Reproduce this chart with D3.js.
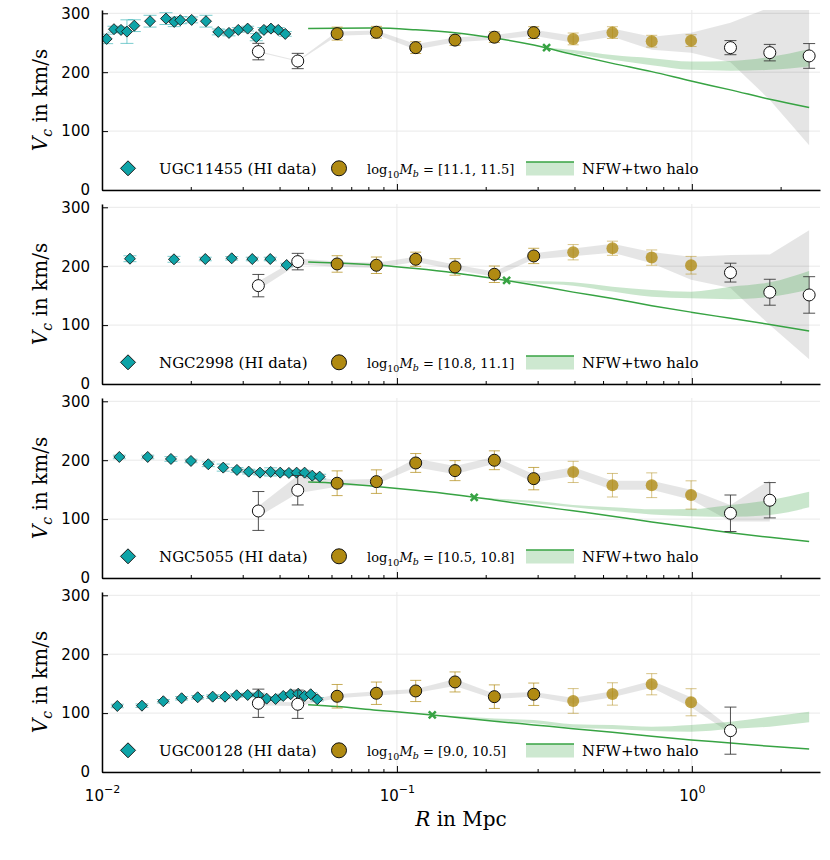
<!DOCTYPE html>
<html>
<head>
<meta charset="utf-8">
<script src="https://cdn.jsdelivr.net/npm/d3@7"></script>
<style>
  body { margin: 0; background: #fff; }
</style>
</head>
<body>
<div id="chart"></div>
<script>
// --- DATA ---

const galaxyNames = ["UGC11455", "NGC2998", "NGC5055", "UGC00128"];
const massRanges = ["[11.1, 11.5]", "[10.8, 11.1]", "[10.5, 10.8]", "[9.0, 10.5]"];

// HI rotation curves (R in Mpc, V in km/s)
const hiR = [
    [0.01037, 0.01098, 0.01160, 0.01215, 0.01287, 0.01455, 0.01648, 0.01758, 0.01843, 0.02014,
     0.02252, 0.02479, 0.02695, 0.02898, 0.03118, 0.03335, 0.03540, 0.03740, 0.03959, 0.04182],
    [0.01244, 0.01754, 0.02240, 0.02753, 0.03232, 0.03720, 0.04228],
    [0.01145, 0.01429, 0.01713, 0.02003, 0.02293, 0.02577, 0.02868, 0.03144, 0.03433, 0.03732,
     0.04021, 0.04303, 0.04571, 0.04864, 0.05164, 0.05470],
    [0.01127, 0.01366, 0.01614, 0.01862, 0.02111, 0.02373, 0.02612, 0.02861, 0.03119, 0.03387,
     0.03616, 0.03879, 0.04117, 0.04362, 0.04629, 0.04866, 0.05100, 0.05368]
];
const hiV = [
    [256.5, 273, 271.8, 268.9, 279, 286.6, 291, 285.4, 288.3, 288.8,
     286.6, 268.4, 266.7, 271.8, 274, 259.4, 271.8, 274, 271.8, 265],
    [212.7, 211.7, 212.2, 213.4, 212.2, 212.2, 202],
    [205.5, 205.5, 202.1, 198.7, 193.1, 187.4, 183.5, 180.6, 178.9, 180.1,
     178.9, 178.4, 178.9, 178.9, 173.8, 172.1],
    [112.1, 112.6, 120.1, 125.2, 126.9, 127.9, 127.9, 130.3, 130.8, 130.8,
     124.5, 124, 129.1, 132, 133, 129.1, 132, 123.5]
];
const hiErr = [
    [8, 5, 5, 20, 10, 10, 10, 8, 6, 5, 10, 5, 5, 4, 4, 6, 4, 4, 4, 4],
    [5, 5, 3, 3, 3, 3, 3],
    [3, 3, 4, 3, 4, 6, 4, 4, 4, 7, 4, 4, 4, 4, 4, 4],
    [3, 3, 3, 3, 3, 3, 3, 3, 3, 3, 3, 3, 3, 3, 3, 3, 3, 3]
];

// stacked measurement bins
const binR = [0.0339, 0.0461, 0.0627, 0.0852, 0.1158, 0.1574, 0.214, 0.291, 0.396, 0.538, 0.731, 0.994, 1.352, 1.838, 2.499];
const binKind = ["open", "open", "dark", "dark", "dark", "dark", "dark", "dark", "light", "light", "light", "light", "open", "open", "open"];
const binV = [
    [235, 219, 265.5, 267.8, 241.7, 254.5, 259.4, 267.2, 256.5, 267.2, 252.6, 253.6, 241.7, 233.2, 227.6],
    [167, 207.8, 203.8, 201.6, 211.8, 198.7, 186.3, 217.4, 223.7, 230.5, 214.6, 201.6, 189.1, 155.8, 151.2],
    [113.8, 149, 160.9, 163.6, 195.3, 182.3, 199.9, 168.7, 180.1, 157.5, 157.5, 141, 109.9, 132, null],
    [116.7, 115, 128.6, 133.7, 137.6, 152.9, 127.9, 132, 120.6, 132.5, 149, 118.4, 70.2, null, null]
];
const binErr = [
    [14, 13, 11, 10, 10, 9, 9, 10, 10, 10, 10, 10, 12, 14, 21],
    [19, 14, 14, 14, 12, 14, 14, 13, 13, 12, 13, 15, 16, 22, 31],
    [33, 25, 21, 20, 16, 17, 16, 19, 18, 20, 21, 24, 31, 30, null],
    [24, 24, 20, 19, 18, 17, 20, 19, 21, 19, 18, 23, 40, null, null]
];
const bandLo = [
    [234, 218, 262, 264, 238, 251, 255, 262, 250, 260, 238, 233, 217, 153, 76],
    [160, 203, 199, 197, 207, 194, 182, 212, 217, 223, 205, 177, 163, 100, 42],
    [104, 144, 155, 159, 188, 176, 194, 162, 173, 150, 150, 133, 96, 96, null],
    [113, 112, 125, 130, 134, 146, 124, 128, 116, 127, 143, 110, 66, null, null]
];
const bandHi = [
    [236, 220, 269, 271, 248, 259, 263, 272, 262, 274, 260, 267, 284, 310, 320],
    [174, 213, 208, 206, 216, 203, 191, 222, 230, 238, 224, 216, 219, 220, 261],
    [122, 174, 167, 168, 203, 190, 206, 176, 188, 165, 165, 150, 124, 166, null],
    [120, 118, 132, 137, 141, 158, 133, 136, 126, 137, 155, 127, 75, null, null]
];

// NFW model curve
const nfwR = [0.05, 0.0627, 0.0852, 0.1158, 0.1574, 0.214, 0.291, 0.396, 0.538, 0.731, 0.994, 1.352, 1.838, 2.499];
const nfwV = [
    [274, 274.5, 275, 272, 267, 258, 246, 230, 215, 201, 185, 170, 154, 140],
    [207, 205.5, 202, 196, 188.5, 179, 168, 156, 145, 133, 122, 111.5, 101, 90],
    [163, 161, 155.5, 149, 141.5, 132.5, 123, 114, 105, 95, 86, 77, 69, 62],
    [114, 111, 105, 99.5, 93, 86.3, 80, 73.6, 67.4, 60.6, 54.4, 49.3, 43.6, 39]
];
const markerR = [0.3218, 0.2355, 0.1828, 0.1318];
const markerV = [241.7, 176, 137, 96.8];

// NFW + two halo band
const haloR = [
    [0.3218, 0.396, 0.538, 0.731, 0.994, 1.352, 1.838, 2.499],
    [0.2355, 0.291, 0.396, 0.538, 0.731, 0.994, 1.352, 1.838, 2.499],
    [0.1828, 0.214, 0.291, 0.396, 0.538, 0.731, 0.994, 1.352, 1.838, 2.499],
    [0.1318, 0.1574, 0.214, 0.291, 0.396, 0.538, 0.731, 0.994, 1.352, 1.838, 2.499]
];
const haloLo = [
    [241.7, 232, 221, 212, 204, 202.6, 204, 209.5],
    [176, 171, 167, 157, 148, 145.5, 144, 148, 160],
    [137, 133, 127, 120, 114, 108, 105, 104, 107, 120],
    [96.8, 93, 87, 82.7, 75.3, 73, 69.6, 68.5, 73, 77, 84.4]
];
const haloHi = [
    [241.7, 237.8, 229, 223.7, 218, 219, 226, 239],
    [176, 175, 172.6, 165, 159.6, 156.7, 165, 172.6, 192],
    [137, 135, 131, 124, 120, 116.7, 117, 124, 132.5, 146.6],
    [96.8, 95, 91, 88.3, 81, 79.8, 77, 79.8, 85.4, 94, 102.4]
];

const yTicks = [0, 100, 200, 300];
const xMajorTicks = [0.01, 0.1, 1];
const xMajorLabels = ["\u22122", "\u22121", "0"];
const xMinorTicks = [0.02, 0.03, 0.04, 0.05, 0.06, 0.07, 0.08, 0.09, 0.2, 0.3, 0.4, 0.5, 0.6, 0.7, 0.8, 0.9, 2];


// --- LAYOUT / STYLE ---

const width = 830, height = 860;
const plotLeft = 102, plotRight = 820, panelHeight = 180;
const panelBottoms = [190, 384, 578, 772];

const teal = "#0ea4a8";
const gold = "#b08a12";
const green = "#37a343";
const serifFont = "'DejaVu Serif', serif";
const sansFont = "'DejaVu Sans', sans-serif";

const svg = d3.select("#chart").append("svg")
    .attr("width", width)
    .attr("height", height);

const x = d3.scaleLog().domain([0.01, 2.72]).range([plotLeft, plotRight]);

const diamondPath = r => `M0,${-r}L${r},0L0,${r}L${-r},0Z`;

function errorBars(sel, data, y, color, opacity, capW) {
    const g = sel.append("g")
        .attr("stroke", color)
        .attr("stroke-opacity", opacity)
        .attr("stroke-width", 1);
    g.selectAll(".bar").data(data).join("line")
        .attr("x1", d => x(d.r)).attr("x2", d => x(d.r))
        .attr("y1", d => y(d.v - d.e)).attr("y2", d => y(d.v + d.e));
    [-1, 1].forEach(s => {
        g.selectAll(".cap" + s).data(data).join("line")
            .attr("x1", d => x(d.r) - capW / 2).attr("x2", d => x(d.r) + capW / 2)
            .attr("y1", d => y(d.v + s * d.e)).attr("y2", d => y(d.v + s * d.e));
    });
}

function drawPanel(i) {
    const bottom = panelBottoms[i];
    const top = bottom - panelHeight;
    const y = d3.scaleLinear().domain([0, 305.6]).range([bottom, top]);
    const g = svg.append("g").attr("class", "panel" + i);

    svg.append("clipPath").attr("id", "clip" + i)
        .append("rect")
        .attr("x", plotLeft).attr("y", top)
        .attr("width", plotRight - plotLeft).attr("height", panelHeight);

    // grid
    g.append("g").selectAll("line").data(yTicks).join("line")
        .attr("x1", plotLeft).attr("x2", plotRight)
        .attr("y1", d => y(d)).attr("y2", d => y(d))
        .attr("stroke", "#e9e9e9").attr("stroke-width", 1);
    g.append("g").selectAll("line").data(xMajorTicks).join("line")
        .attr("x1", d => x(d)).attr("x2", d => x(d))
        .attr("y1", top).attr("y2", bottom)
        .attr("stroke", "#e9e9e9").attr("stroke-width", 1);

    const plot = g.append("g").attr("clip-path", `url(#clip${i})`);

    const bins = binR.map((r, k) => ({
        r, v: binV[i][k], e: binErr[i][k], lo: bandLo[i][k], hi: bandHi[i][k], kind: binKind[k]
    })).filter(d => d.v != null);

    // gray band through the stacked bins
    plot.append("path").datum(bins)
        .attr("d", d3.area().x(d => x(d.r)).y0(d => y(d.lo)).y1(d => y(d.hi)))
        .attr("fill", "#000").attr("fill-opacity", 0.1);

    // two halo band
    const halo = haloR[i].map((r, k) => ({r, lo: haloLo[i][k], hi: haloHi[i][k]}));
    plot.append("path").datum(halo)
        .attr("d", d3.area().curve(d3.curveMonotoneX)
            .x(d => x(d.r)).y0(d => y(d.lo)).y1(d => y(d.hi)))
        .attr("fill", green).attr("fill-opacity", 0.27);

    // NFW line
    const nfw = nfwR.map((r, k) => ({r, v: nfwV[i][k]}));
    plot.append("path").datum(nfw)
        .attr("d", d3.line().curve(d3.curveMonotoneX).x(d => x(d.r)).y(d => y(d.v)))
        .attr("fill", "none").attr("stroke", green).attr("stroke-width", 1.5);

    // cross marker
    const mx = x(markerR[i]), my = y(markerV[i]);
    plot.append("path")
        .attr("d", `M${mx - 3.5},${my - 3.5}L${mx + 3.5},${my + 3.5}M${mx - 3.5},${my + 3.5}L${mx + 3.5},${my - 3.5}`)
        .attr("stroke", green).attr("stroke-width", 2.5).attr("fill", "none");

    // HI data
    const hi = hiR[i].map((r, k) => ({r, v: hiV[i][k], e: hiErr[i][k]}));
    errorBars(plot, hi, y, teal, 0.55, 13);
    plot.append("g").selectAll("path").data(hi).join("path")
        .attr("d", diamondPath(5.5))
        .attr("transform", d => `translate(${x(d.r)},${y(d.v)})`)
        .attr("fill", teal).attr("stroke", "#1a1a1a").attr("stroke-width", 0.9);

    // stacked bins
    const open = bins.filter(d => d.kind == "open");
    const dark = bins.filter(d => d.kind == "dark");
    const light = bins.filter(d => d.kind == "light");
    errorBars(plot, open, y, "#333", 0.85, 12);
    errorBars(plot, dark, y, gold, 0.7, 11);
    errorBars(plot, light, y, gold, 0.5, 11);
    plot.append("g").selectAll("circle").data(open).join("circle")
        .attr("cx", d => x(d.r)).attr("cy", d => y(d.v)).attr("r", 6)
        .attr("fill", "#fff").attr("stroke", "#111").attr("stroke-width", 1);
    plot.append("g").selectAll("circle").data(dark).join("circle")
        .attr("cx", d => x(d.r)).attr("cy", d => y(d.v)).attr("r", 6)
        .attr("fill", gold).attr("stroke", "#111").attr("stroke-width", 1);
    plot.append("g").selectAll("circle").data(light).join("circle")
        .attr("cx", d => x(d.r)).attr("cy", d => y(d.v)).attr("r", 6)
        .attr("fill", gold).attr("fill-opacity", 0.78);

    // axes
    const yAxis = g.append("g")
        .attr("transform", `translate(${plotLeft},0)`)
        .call(d3.axisLeft(y).tickValues(yTicks).tickSize(-6).tickSizeOuter(0).tickPadding(12));
    yAxis.selectAll("text").attr("font-family", sansFont).attr("font-size", 15).attr("fill", "#000");

    const xMinor = g.append("g")
        .attr("transform", `translate(0,${bottom})`)
        .call(d3.axisBottom(x).tickValues(xMinorTicks).tickSize(-3).tickSizeOuter(0).tickFormat(""));
    xMinor.select(".domain").remove();
    const xAxis = g.append("g")
        .attr("transform", `translate(0,${bottom})`)
        .call(d3.axisBottom(x).tickValues(xMajorTicks).tickSize(-6).tickSizeOuter(0).tickFormat(""));
    xAxis.attr("font-size", 15);

    if (i == panelBottoms.length - 1) {
        xAxis.selectAll(".tick text")
            .attr("y", 29).attr("dy", 0)
            .attr("font-family", sansFont).attr("fill", "#000")
            .each(function (d, k) {
                const t = d3.select(this);
                t.append("tspan").text("10");
                t.append("tspan").attr("dy", -8).attr("font-size", 11).text(xMajorLabels[k]);
            });
    }
    g.selectAll(".domain").attr("stroke", "#000").attr("stroke-width", 1.5);
    g.selectAll(".tick line").attr("stroke", "#000").attr("stroke-width", 1);

    // y label
    const yl = g.append("text").attr("font-family", serifFont)
        .attr("transform", `translate(47,${(top + bottom) / 2}) rotate(-90)`)
        .attr("text-anchor", "middle").attr("font-size", 20);
    yl.append("tspan").attr("font-style", "italic").text("V");
    yl.append("tspan").attr("font-style", "italic").attr("font-size", 14).attr("dy", 5).text("c");
    yl.append("tspan").attr("dy", -5).text(" in km/s");

    // legend
    const leg = g.append("g").attr("font-family", serifFont).attr("font-size", 15);
    const ly = bottom - 21.7;
    const ty = bottom - 16.5;
    leg.append("path").attr("d", diamondPath(7.5))
        .attr("transform", `translate(128,${ly})`)
        .attr("fill", teal).attr("stroke", "#1a1a1a").attr("stroke-width", 1);
    leg.append("text").attr("x", 159).attr("y", ty).text(`${galaxyNames[i]} (HI data)`);
    leg.append("circle").attr("cx", 339).attr("cy", ly).attr("r", 7.5)
        .attr("fill", gold).attr("stroke", "#111").attr("stroke-width", 1);
    const mt = leg.append("text").attr("x", 367).attr("y", ty).attr("font-size", 13);
    mt.append("tspan").text("log");
    mt.append("tspan").attr("font-size", 9.5).attr("dy", 4).text("10");
    mt.append("tspan").attr("dy", -4).attr("font-style", "italic").text("M");
    mt.append("tspan").attr("font-size", 9.5).attr("font-style", "italic").attr("dy", 3).text("b");
    mt.append("tspan").attr("dy", -3).text(" = " + massRanges[i]);
    leg.append("rect").attr("x", 526).attr("y", bottom - 28).attr("width", 48).attr("height", 13.5)
        .attr("fill", green).attr("fill-opacity", 0.25);
    leg.append("line").attr("x1", 526).attr("x2", 574).attr("y1", bottom - 28).attr("y2", bottom - 28)
        .attr("stroke", green).attr("stroke-width", 1.5);
    leg.append("text").attr("x", 582).attr("y", ty).text("NFW+two halo");
}

galaxyNames.forEach((name, i) => drawPanel(i));

// x label
const xl = svg.append("text").attr("font-family", serifFont)
    .attr("x", (plotLeft + plotRight) / 2).attr("y", 826)
    .attr("text-anchor", "middle").attr("font-size", 20);
xl.append("tspan").attr("font-style", "italic").text("R");
xl.append("tspan").text(" in Mpc");
</script>
</body>
</html>
